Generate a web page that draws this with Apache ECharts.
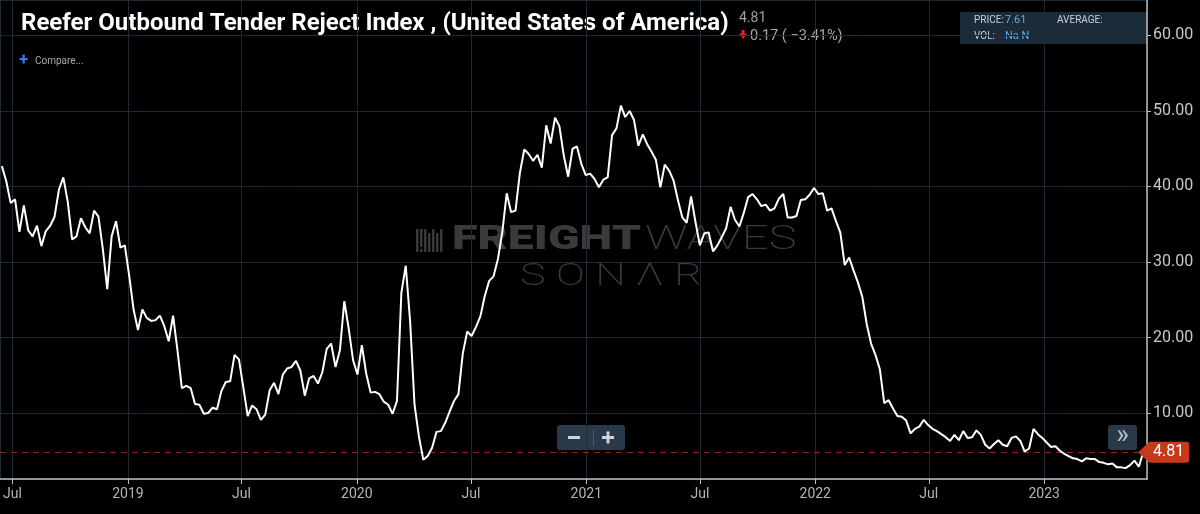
<!DOCTYPE html>
<html>
<head>
<meta charset="utf-8">
<script src="https://cdn.jsdelivr.net/npm/echarts@6/dist/echarts.min.js"></script>
<style>
html,body{margin:0;padding:0;background:#000;}
#chart{width:1200px;height:514px;}
</style>
</head>
<body>
<div id="chart"></div>
<script>
// ---- data (weekly readings of the Reefer OTRI) ----
const firstWeek = [2018, 5, 14];           // first weekly observation (y, m0, d)
const axisStart = [2018, 5, 11];
const axisEnd = [2023, 5, 14];
const valuesJun2018toSep2019 = [42.7, 40.7, 37.8, 38.3, 34.0, 37.5, 34.2, 33.4, 34.8, 32.1, 34.1, 34.8, 36.0, 39.6, 41.2, 38.0, 33.0, 33.4, 35.8, 34.6, 33.8, 36.8, 36.0, 31.7, 26.4, 33.4, 35.4, 31.9, 32.2, 28.2, 23.7, 21.0, 23.7, 22.6, 22.2, 22.3, 22.9, 21.5, 19.5, 22.9, 18.3, 13.3, 13.6, 13.3, 11.2, 11.1, 9.9, 10.0, 10.7, 10.5, 12.9, 14.1, 14.2, 17.7, 17.1, 13.4, 9.6, 11.0, 10.5, 9.1, 9.8, 13.0, 14.0, 12.5, 15.1, 15.9, 16.1, 16.9];
const valuesSep2019toNov2020 = [15.6, 12.3, 14.6, 14.9, 13.9, 15.4, 18.5, 19.2, 16.1, 18.3, 24.8, 21.2, 17.0, 15.1, 19.0, 15.2, 12.7, 12.8, 12.5, 11.5, 11.1, 9.9, 11.6, 25.9, 29.5, 22.1, 11.1, 6.9, 3.8, 4.3, 5.4, 7.5, 7.6, 8.7, 10.2, 11.6, 12.5, 17.9, 20.8, 20.2, 21.4, 22.8, 25.5, 27.5, 28.1, 30.4, 34.0, 39.1, 36.6, 36.8, 41.8, 44.9, 44.3, 43.4, 44.2, 42.5];
const valuesNov2020toJan2021 = [48.1, 45.7, 49.1, 48.0, 44.1, 41.3, 45.0, 45.3, 43.0, 41.5, 41.7, 41.0];
const valuesJan2021toMar2022 = [39.9, 40.9, 41.2, 46.8, 47.7, 50.7, 49.2, 50.0, 48.8, 45.4, 46.9, 45.6, 44.6, 43.5, 39.9, 42.9, 42.1, 40.8, 38.2, 35.9, 35.2, 38.7, 35.3, 32.2, 33.8, 33.9, 31.4, 32.2, 33.3, 34.5, 37.3, 35.6, 34.7, 36.5, 38.6, 39.0, 38.3, 37.4, 37.6, 36.8, 37.1, 38.4, 39.0, 35.9, 35.9, 36.1, 38.2, 38.3, 38.9, 39.8, 39.0, 39.1, 36.8, 37.1, 35.4, 33.9, 29.6, 30.6, 28.9];
const valuesMar2022toJun2023 = [27.3, 25.4, 21.8, 19.2, 17.7, 15.8, 11.3, 11.7, 10.6, 9.6, 9.5, 9.0, 7.3, 7.9, 8.2, 9.1, 8.4, 7.9, 7.6, 7.2, 6.8, 6.3, 7.1, 6.4, 7.6, 6.7, 6.8, 7.7, 7.1, 5.8, 5.3, 5.9, 6.4, 5.8, 5.6, 6.7, 6.9, 6.3, 4.9, 5.3, 7.9, 7.2, 6.7, 6.1, 5.5, 5.6, 5.0, 4.6, 4.3, 4.0, 3.9, 3.6, 4.0, 3.9, 3.9, 3.5, 3.4, 3.2, 3.3, 2.8, 2.8, 2.7, 3.1, 3.7, 2.9, 4.81];
const lastValue = 4.81;
const yRange = [1.26, 64.7];
const midYearLabel = 'Jul';
const titleText = 'Reefer Outbound Tender Reject Index , (United States of America)';
const changeText = '0.17 ( \u22123.41%)';
const priceText = '7.61';
const volText = 'Na N';

// ---- build ----
const values = [].concat(valuesJun2018toSep2019, valuesSep2019toNov2020, valuesNov2020toJan2021, valuesJan2021toMar2022, valuesMar2022toJun2023);
const seriesData = values.map((v, i) => [new Date(firstWeek[0], firstWeek[1], firstWeek[2] + 7 * i).getTime(), v]);
const xMin = new Date(axisStart[0], axisStart[1], axisStart[2]).getTime();
const xMax = new Date(axisEnd[0], axisEnd[1], axisEnd[2]).getTime();

const chart = echarts.init(document.getElementById('chart'));
const wm = '#3a3a3a';
const btn = '#2a3a4a';
const graphic = [
  { type: 'text', x: 21, y: 24, style: { text: titleText, fill: '#fff', font: 'bold 24px Roboto', verticalAlign: 'middle' } },
  { type: 'text', x: 739, y: 18, style: { text: String(lastValue), fill: '#a0a0a0', font: '14px Roboto', verticalAlign: 'middle' } },
  { type: 'rect', shape: { x: 741.5, y: 30, width: 3, height: 4 }, style: { fill: '#e3242b' } },
  { type: 'polygon', shape: { points: [[739, 33.5], [747, 33.5], [743, 39]] }, style: { fill: '#e3242b' } },
  { type: 'text', x: 750, y: 36, style: { text: changeText, fill: '#a8a8a8', font: '14.5px Roboto', verticalAlign: 'middle' } },
  { type: 'rect', shape: { x: 960, y: 12, width: 187, height: 32 }, style: { fill: '#1c2b3a' } },
  { type: 'text', x: 974, y: 20.5, style: { text: 'PRICE:', fill: '#c8ced6', font: '10px Roboto', verticalAlign: 'middle' } },
  { type: 'text', x: 1005, y: 20.5, style: { text: priceText, fill: '#5dafea', font: '11px Roboto', verticalAlign: 'middle' } },
  { type: 'text', x: 1057, y: 20.5, style: { text: 'AVERAGE:', fill: '#c8ced6', font: '10px Roboto', verticalAlign: 'middle' } },
  { type: 'text', x: 974, y: 36, style: { text: 'VOL:', fill: '#c8ced6', font: '10px Roboto', verticalAlign: 'middle' } },
  { type: 'text', x: 1005, y: 36, style: { text: volText, fill: '#5dafea', font: '11px Roboto', verticalAlign: 'middle' } },
  { type: 'text', x: 19, y: 61, style: { text: '+', fill: '#2f7fe0', font: 'bold 17px Roboto', verticalAlign: 'middle' } },
  { type: 'text', x: 35, y: 61, style: { text: 'Compare...', fill: '#a8a8a8', font: '10px Roboto', verticalAlign: 'middle' } },
  // watermark
  { type: 'rect', shape: { x: 416, y: 229, width: 2.5, height: 23 }, style: { fill: wm } },
  { type: 'rect', shape: { x: 420, y: 229, width: 2.5, height: 18 }, style: { fill: wm } },
  { type: 'rect', shape: { x: 420, y: 249, width: 2.5, height: 3 }, style: { fill: wm } },
  { type: 'rect', shape: { x: 424, y: 229, width: 2.5, height: 23 }, style: { fill: wm } },
  { type: 'rect', shape: { x: 428, y: 233, width: 2.5, height: 19 }, style: { fill: wm } },
  { type: 'rect', shape: { x: 432, y: 229, width: 2.5, height: 23 }, style: { fill: wm } },
  { type: 'rect', shape: { x: 436, y: 233, width: 2.5, height: 19 }, style: { fill: wm } },
  { type: 'rect', shape: { x: 440, y: 229, width: 2.5, height: 23 }, style: { fill: wm } },
  { type: 'text', x: 452, y: 241, scaleX: 1.41, style: { text: 'FREIGHT', fill: wm, font: '900 33px Roboto', verticalAlign: 'middle' } },
  { type: 'text', x: 645, y: 241, scaleX: 1.43, style: { text: 'WAVES', fill: wm, font: '200 33px Roboto', verticalAlign: 'middle' } },
  { type: 'text', x: 520, y: 277, scaleX: 1.39, style: { text: 'S O N Λ R', fill: wm, font: '200 31px Roboto', verticalAlign: 'middle' } },
  // zoom buttons
  { type: 'rect', shape: { x: 557, y: 425, width: 68, height: 25, r: 3 }, style: { fill: btn } },
  { type: 'rect', shape: { x: 568, y: 436, width: 12, height: 3 }, style: { fill: '#cfd3d8' } },
  { type: 'rect', shape: { x: 593, y: 429, width: 1, height: 17 }, style: { fill: '#4a5c6e' } },
  { type: 'rect', shape: { x: 602, y: 436, width: 12, height: 3 }, style: { fill: '#cfd3d8' } },
  { type: 'rect', shape: { x: 606.5, y: 431.5, width: 3, height: 12 }, style: { fill: '#cfd3d8' } },
  { type: 'rect', shape: { x: 1108, y: 425, width: 29, height: 25, r: 3 }, style: { fill: btn } },
  { type: 'text', x: 1122.5, y: 436, style: { text: '»', fill: '#b8bec6', font: '27px Roboto', align: 'center', verticalAlign: 'middle' } }
];

chart.setOption({
  backgroundColor: '#000',
  animation: false,
  textStyle: { fontFamily: 'Roboto' },
  grid: { left: 0, right: 53, top: 0, bottom: 35 },
  xAxis: {
    type: 'time',
    min: xMin,
    max: xMax,
    splitNumber: 10,
    axisLine: { lineStyle: { color: '#bdbdbd', width: 1.5 } },
    axisTick: { show: true, length: 5, lineStyle: { color: '#bdbdbd' } },
    axisLabel: {
      color: '#b5b5b5', fontSize: 14, margin: 8, showMinLabel: false, showMaxLabel: false,
      formatter: function (v) {
        const d = new Date(v);
        if (d.getDate() !== 1) return '';
        if (d.getMonth() === 0) return String(d.getFullYear());
        if (d.getMonth() === 6) return midYearLabel;
        return '';
      }
    },
    splitLine: { show: true, lineStyle: { color: '#1d2a36' } }
  },
  yAxis: {
    type: 'value',
    position: 'right',
    min: yRange[0],
    max: yRange[1],
    splitNumber: 6,
    axisLine: { show: true, lineStyle: { color: '#bdbdbd', width: 1.5 } },
    axisTick: { show: true, length: 4, lineStyle: { color: '#bdbdbd' } },
    axisLabel: { color: '#c8c8c8', fontSize: 16, margin: 6, showMinLabel: false, showMaxLabel: false, formatter: v => v.toFixed(2) },
    splitLine: { show: true, lineStyle: { color: '#1d2a36' } }
  },
  graphic: graphic,
  series: [{
    type: 'line',
    data: seriesData,
    showSymbol: false,
    smooth: false,
    lineStyle: { color: '#ffffff', width: 2 },
    z: 5,
    markLine: {
      silent: true,
      symbol: 'none',
      lineStyle: { color: '#8c2c18', type: [6, 5], width: 1.2 },
      label: {
        show: true, position: 'end', distance: 1, formatter: String(lastValue),
        color: '#fff', fontSize: 16, backgroundColor: '#c63a1b', padding: [3, 5, 2, 5], borderRadius: 3
      },
      data: [{ yAxis: lastValue }]
    }
  }]
});

// arrow of the last-value tag, placed from the axis scale
const tip = chart.convertToPixel({ gridIndex: 0 }, [xMax, lastValue]);
chart.setOption({
  graphic: graphic.concat([{
    type: 'polygon', z: 10,
    shape: { points: [[tip[0] - 9, tip[1]], [tip[0] + 2, tip[1] - 10], [tip[0] + 2, tip[1] + 10]] },
    style: { fill: '#c63a1b' }
  }])
});
</script>
</body>
</html>
